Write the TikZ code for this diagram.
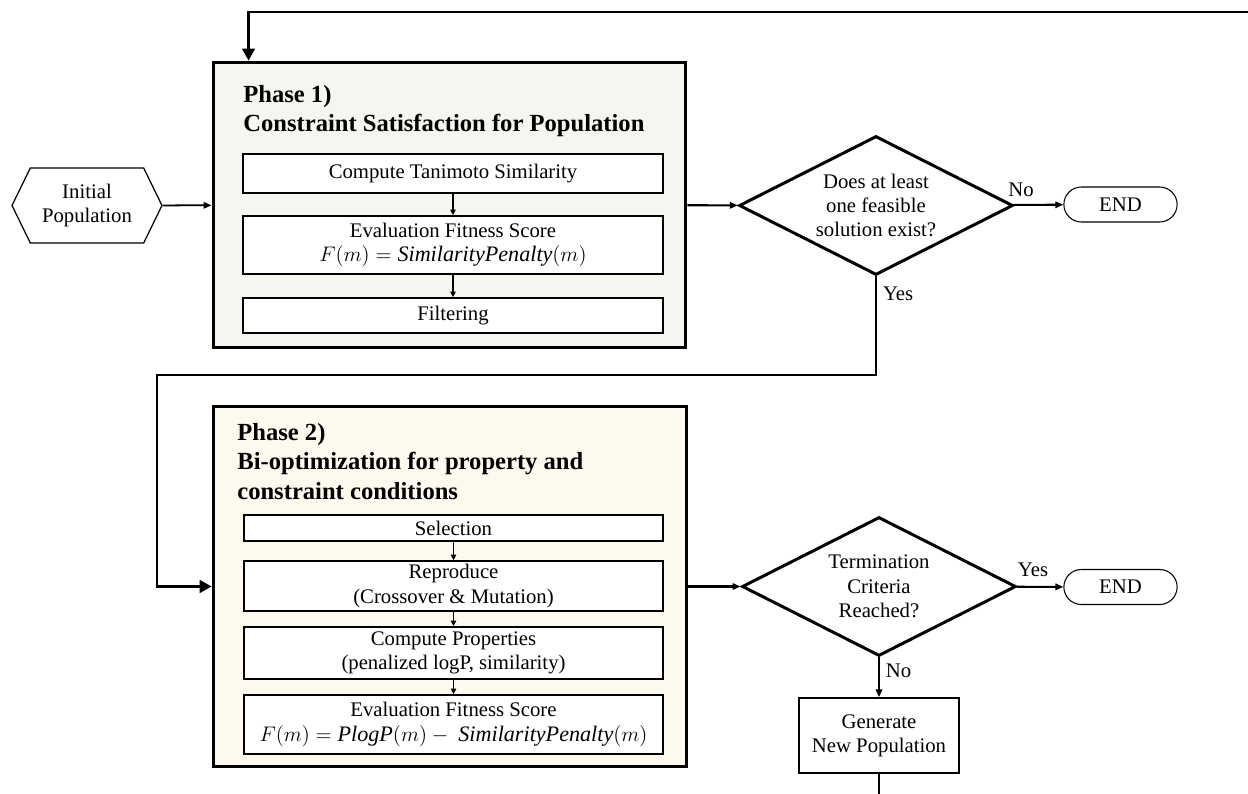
\documentclass[tikz,border=0pt]{standalone}
\usepackage{fontspec}
\setmainfont{Liberation Serif}
\usetikzlibrary{positioning,calc,arrows.meta,shapes.geometric,shapes.misc,shapes.symbols}

\definecolor{phaseonefill}{HTML}{F3F7F0}
\definecolor{phasetwofill}{HTML}{FDF9EE}

\newcommand{\fml}[1]{{\fontsize{12.6}{13.8}\selectfont$#1$}}

\tikzset{
    every node/.style={font=\fontsize{11.8}{13.8}\selectfont},
    phase/.style={draw, line width=1.7pt, inner sep=0pt},
    title/.style={font=\fontsize{14}{16.8}\selectfont\bfseries, align=left, anchor=north west, inner sep=0pt},
    stepbox/.style={draw, line width=0.8pt, fill=white, align=center, inner sep=0pt},
    decision/.style={draw, diamond, aspect=2, line width=1.7pt, fill=white, align=center, inner sep=0pt,
                     minimum width=5.48cm, minimum height=2.78cm},
    terminal/.style={draw, rounded rectangle, line width=0.6pt, minimum width=2.5cm, minimum height=0.7cm},
    answer/.style={pos=0, anchor=south west, inner sep=0pt},
    conn/.style={line width=1.2pt, -{Triangle[length=4.5pt,width=3.6pt]}},
    bigconn/.style={line width=1.4pt, -{Triangle[length=6.8pt,width=7.2pt]}},
    thin conn/.style={line width=0.8pt, -{Triangle[length=3.2pt,width=3pt]}}
}

\begin{document}
\begin{tikzpicture}[x=0.02cm, y=-0.02cm]
    \useasboundingbox (0,0) rectangle (1248,794);

    \node[phase, fill=phaseonefill, minimum width=9.46cm, minimum height=5.72cm] (phase1) at (449.5,205) {};
    \node[title] (title1) at (243,85) {Phase 1)\\Constraint Satisfaction for Population};
    \node[stepbox, minimum width=8.4cm, minimum height=0.78cm] (tanimoto) at (453,173.5) {Compute Tanimoto Similarity};
    \node[stepbox, minimum width=8.4cm, minimum height=1.16cm] (eval1) at (453,245) {Evaluation Fitness Score\\\fml{F(m) = \mathit{SimilarityPenalty}(m)}};
    \node[stepbox, minimum width=8.4cm, minimum height=0.7cm] (filter) at (453,315.5) {Filtering};
    \draw[thin conn] (tanimoto) -- (eval1);
    \draw[thin conn] (eval1) -- (filter);

    \node[phase, fill=phasetwofill, minimum width=9.48cm, minimum height=7.22cm] (phase2) at (450,586.5) {};
    \node[title] (title2) at (237,423) {Phase 2)\\Bi-optimization for property and\\constraint conditions};
    \node[stepbox, minimum width=8.38cm, minimum height=0.52cm] (select) at (453.5,528) {Selection};
    \node[stepbox, minimum width=8.38cm, minimum height=1cm] (reproduce) at (453.5,586) {Reproduce\\(Crossover \& Mutation)};
    \node[stepbox, minimum width=8.38cm, minimum height=1.04cm] (props) at (453.5,653) {Compute Properties\\(penalized logP, similarity)};
    \node[stepbox, minimum width=8.38cm, minimum height=1.18cm] (eval2) at (453.5,724.5) {Evaluation Fitness Score\\\fml{F(m) = \mathit{PlogP}(m) -\ \mathit{SimilarityPenalty}(m)}};
    \draw[thin conn] (select) -- (reproduce);
    \draw[thin conn] (reproduce) -- (props);
    \draw[thin conn] (props) -- (eval2);

    \node[draw, signal, signal to=west and east, signal pointer angle=128, line width=0.7pt, align=center,
          minimum width=3cm, minimum height=1.5cm, inner sep=0pt] (init) at (87,205.5) {Initial\\Population};

    \node[decision] (check) at (876,205.5) {Does at least\\one feasible\\solution exist?};
    \node[terminal] (end1) at (1120.5,204.5) {END};
    \node[decision] (term) at (879,586.5) {Termination\\Criteria\\Reached?};
    \node[terminal] (end2) at (1120.5,587) {END};
    \node[draw, line width=0.8pt, align=center, minimum width=3.2cm, minimum height=1.5cm, inner sep=0pt] (newpop) at (879,735.5) {Generate\\New Population};

    \coordinate (loopin) at (1248,12);
    \coordinate (bend) at (157,375);
    \coordinate (loopout) at (879,794);

    \draw[line width=1pt, -{Triangle[length=4.5pt,width=3.6pt]}] (init) -- (phase1);
    \draw[bigconn] (loopin) -| ($(phase1.north west)+(37,0)$);
    \draw[conn] (phase1) -- (check);
    \draw[conn] (check) -- node[answer, xshift=-0.12cm, yshift=0.14cm] {No} (end1);
    \draw[bigconn] (check.south) |- node[pos=0.09, right] {Yes} (bend) |- (phase2.west);
    \draw[conn] (phase2) -- (term);
    \draw[conn] (term) -- node[answer, yshift=0.18cm] {Yes} (end2);
    \draw[conn] (term.south) -- node[pos=0.33, right] {No} (newpop);
    \draw[line width=1.4pt] (newpop) -- (loopout);
\end{tikzpicture}
\end{document}
